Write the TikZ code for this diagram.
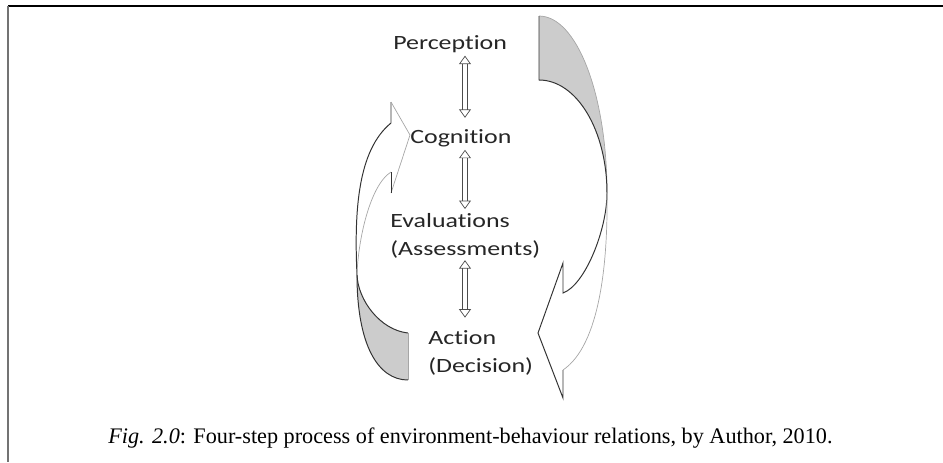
\documentclass[tikz,border=0pt]{standalone}
\usepackage{fontspec}
\setmainfont{Liberation Serif}
\newfontfamily\stagefont[FakeStretch=1.28,Ligatures=NoCommon]{Carlito}
\usetikzlibrary{arrows.meta}

\begin{document}
\begin{tikzpicture}[x=0.025cm,y=-0.025cm,
  stage/.style={anchor=west,inner sep=0pt,align=left,text=black!85,
    font=\stagefont\fontsize{14.4}{20}\selectfont},
  link/.style={draw=black!70,line width=0.5pt,double=white,double distance=3.4pt,
    {Triangle[open,length=6pt,width=8.5pt]}-{Triangle[open,length=6pt,width=8.5pt]}},
  darkedge/.style={draw=black!80,line width=0.7pt},
  lightedge/.style={draw=black!35,line width=0.5pt},
  backface/.style={fill=black!20}]

\useasboundingbox (0,0) rectangle (943,462);

% frame
\draw[black,line width=1pt] (8,6) -- (943,6);
\draw[black!55,line width=1.5pt] (8,6) -- (8,462);

\node[stage] (perc) at (393,44) {Perception};
\node[stage] (cogn) at (410,138) {Cognition};
\node[stage] (eval) at (390,236) {Evaluations\\(Assessments)};
\node[stage] (act) at (428,353) {Action\\(Decision)};

\coordinate (axis) at (465,0);
\draw[link,shorten <=2pt,shorten >=8pt] (axis |- perc.south) -- (axis |- cogn.north);
\draw[link,shorten <=2pt,shorten >=3pt] (axis |- cogn.south) -- (axis |- eval.north);
\draw[link,shorten <=1pt,shorten >=9pt] (axis |- eval.south) -- (axis |- act.north);

% right arrow, back face on top
\coordinate (rt) at (539,16);
\coordinate (rb) at (539,80);
\coordinate (rk) at (607,193);
\fill[backface] (rt) .. controls (577,16) and (607,95) .. (rk)
  .. controls (607,131) and (577,80) .. (rb) -- cycle;
\draw[lightedge] (rt) .. controls (577,16) and (607,95) .. (rk);
\draw[darkedge] (rt) -- (rb) .. controls (577,80) and (607,131) .. (rk);
\draw[darkedge] (rk) .. controls (607,230) and (585,285) .. (563,293)
  -- (563,263) -- (538,333) -- (563,398) -- (563,370);
\draw[lightedge] (563,370) .. controls (600,345) and (608,262) .. (rk);

% left arrow, back face at the bottom
\coordinate (lt) at (408,333);
\coordinate (lb) at (408,380);
\coordinate (lk) at (357,275);
\fill[backface] (lk) .. controls (357,345) and (378,380) .. (lb) -- (lt)
  .. controls (380,330) and (358,300) .. (lk) -- cycle;
\draw[darkedge] (lk) .. controls (357,345) and (378,380) .. (lb);
\draw[lightedge] (lb) -- (lt);
\draw[darkedge] (lt) .. controls (380,330) and (358,300) .. (lk);
\draw[darkedge] (lk) .. controls (354,210) and (358,150) .. (391,123) -- (391,102);
\draw[lightedge] (391,102) -- (410,135) -- (391,193);
\draw[darkedge] (391,193) -- (391,172);
\draw[lightedge] (391,172) .. controls (370,185) and (358,240) .. (lk);

\node[anchor=base west,inner sep=0pt,font=\fontsize{15.8}{19}\selectfont] (caption)
  at (108,443) {\textit{Fig. 2.0}: Four-step process of environment-behaviour relations, by Author, 2010.};

\end{tikzpicture}
\end{document}
